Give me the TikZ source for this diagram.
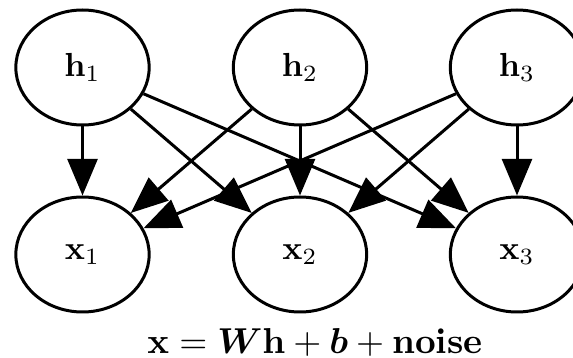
\documentclass[tikz,border=0pt]{standalone}
\usepackage[reqno]{amsmath}
\usepackage{amssymb}
\usepackage{tikz}
\usetikzlibrary{shapes,arrows.meta}

\tikzset{
  unit/.style = {draw, ellipse, line width = .9pt, minimum width = 40pt, minimum height = 34.5pt},
  edge/.style = {-{Triangle[length = 11pt, width = 9pt]}, line width = .9pt}
}

\begin{document}
\begin{tikzpicture}[x = .3pt, y = .3pt]
\useasboundingbox (0,0) rectangle (573,358);
\node[unit] (h1) at (82.5,290.5) {$\mathbf{h}_1$};
\node[unit] (h2) at (300,290.5) {$\mathbf{h}_2$};
\node[unit] (h3) at (517,290.5) {$\mathbf{h}_3$};
\node[unit] (x1) at (82.5,103.5) {$\mathbf{x}_1$};
\node[unit] (x2) at (300,103.5) {$\mathbf{x}_2$};
\node[unit] (x3) at (517,103.5) {$\mathbf{x}_3$};
\draw[edge] (h1) -- (x1);
\draw[edge] (h1) -- (x2);
\draw[edge] (h1) -- (x3);
\draw[edge] (h2) -- (x1);
\draw[edge] (h2) -- (x2);
\draw[edge] (h2) -- (x3);
\draw[edge] (h3) -- (x1);
\draw[edge] (h3) -- (x2);
\draw[edge] (h3) -- (x3);
\node[scale = 1.08] (eq) at (315,15) {$\mathbf{x} = \boldsymbol{W}\mathbf{h} + \boldsymbol{b} + \textbf{noise}$};
\end{tikzpicture}
\end{document}
